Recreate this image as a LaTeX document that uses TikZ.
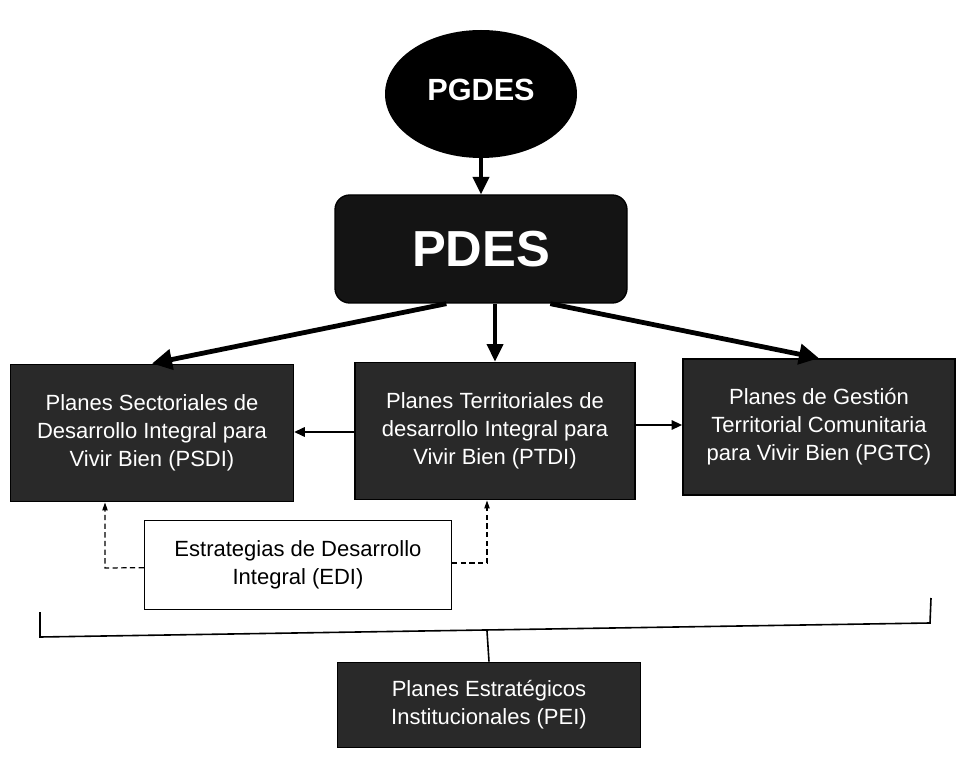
\documentclass[tikz,border=0pt]{standalone}
\usepackage{fontspec}
\setmainfont{Liberation Sans}
\usetikzlibrary{arrows.meta,shapes.geometric,calc}
\definecolor{boxfill}{gray}{0.16}
\definecolor{pdesfill}{gray}{0.08}
\begin{document}
\begin{tikzpicture}[x=0.75pt,y=-0.75pt,
  darkbox/.style={rectangle,draw=black,line width=1.2pt,fill=boxfill,text=white,
    align=center,font=\fontsize{16.5}{21}\selectfont,inner sep=0pt},
  bigarrow/.style={draw=black,line width=3.6pt,-{Triangle[length=15pt,width=15pt]}},
  midarrow/.style={draw=black,line width=2.6pt,-{Triangle[length=13pt,width=12pt]}},
  thinarrow/.style={draw=black,line width=1.6pt,-{Triangle[length=8pt,width=7pt]}},
  dasharrow/.style={draw=black,line width=0.9pt,dash pattern=on 4pt off 2.5pt,-{Triangle[length=6pt,width=4pt]}},
  bracketline/.style={draw=black,line width=1.2pt}]
\useasboundingbox (0,0) rectangle (957,759);
% top
\node (pgdes) [ellipse,fill=black,minimum width=144pt,minimum height=96pt,inner sep=0pt,
  text=white,font=\fontsize{23}{23}\selectfont\bfseries] at (481,94) {\raisebox{6pt}{PGDES}};
\node (pdes) [rectangle,rounded corners=11pt,fill=pdesfill,draw=black,line width=1pt,
  minimum width=219pt,minimum height=81pt,inner sep=0pt,text=white,
  font=\fontsize{38}{38}\selectfont\bfseries] at (481,249) {PDES};
\draw[midarrow] (pgdes.south) -- (pdes.north);
% middle row
\node (psdi) [darkbox,minimum width=212pt,minimum height=103pt] at (152,433)
  {Planes Sectoriales de\\Desarrollo Integral para\\Vivir Bien (PSDI)};
\node (ptdi) [darkbox,minimum width=210pt,minimum height=103pt] at (495,431)
  {Planes Territoriales de\\desarrollo Integral para\\Vivir Bien (PTDI)};
\node (pgtc) [darkbox,minimum width=204pt,minimum height=102pt] at (819,427)
  {Planes de Gestión\\Territorial Comunitaria\\para Vivir Bien (PGTC)};
\draw[bigarrow] ([xshift=-26pt]pdes.south) -- (psdi.north);
\draw[midarrow] (pdes.south -| ptdi.north) -- (ptdi.north);
\draw[bigarrow] ([xshift=52pt]pdes.south) -- (pgtc.north);
\draw[thinarrow] ([yshift=-0.75pt]ptdi.west) -- ([yshift=-0.75pt]ptdi.west -| psdi.east);
\draw[thinarrow] ([yshift=4.5pt]ptdi.east) -- ([yshift=4.5pt]ptdi.east -| pgtc.west);
% EDI
\node (edi) [rectangle,draw=black,line width=1.2pt,fill=white,align=center,
  minimum width=230pt,minimum height=67pt,inner sep=0pt,
  font=\fontsize{16.5}{21}\selectfont] at (298,565)
  {Estrategias de Desarrollo\\Integral (EDI)};
\coordinate (dl) at (105,568);
\coordinate (dr) at (487,563);
\draw[dasharrow] ([yshift=-2pt]edi.west) -- (dl) -- (dl |- psdi.south);
\draw[dasharrow] ([yshift=1.5pt]edi.east) -- (dr) -- (dr |- ptdi.south);
% bracket
\coordinate (bl1) at (40,612);
\coordinate (bl2) at (40,637);
\coordinate (br2) at (930,623);
\coordinate (br1) at (931,598);
\coordinate (bm) at (487,631);
\draw[bracketline] (bl1) -- (bl2) -- (br2) -- (br1);
% PEI
\node (pei) [darkbox,minimum width=227pt,minimum height=64pt] at (489,705)
  {Planes Estratégicos\\Institucionales (PEI)};
\draw[bracketline] (bm) -- (pei.north);
\end{tikzpicture}
\end{document}
